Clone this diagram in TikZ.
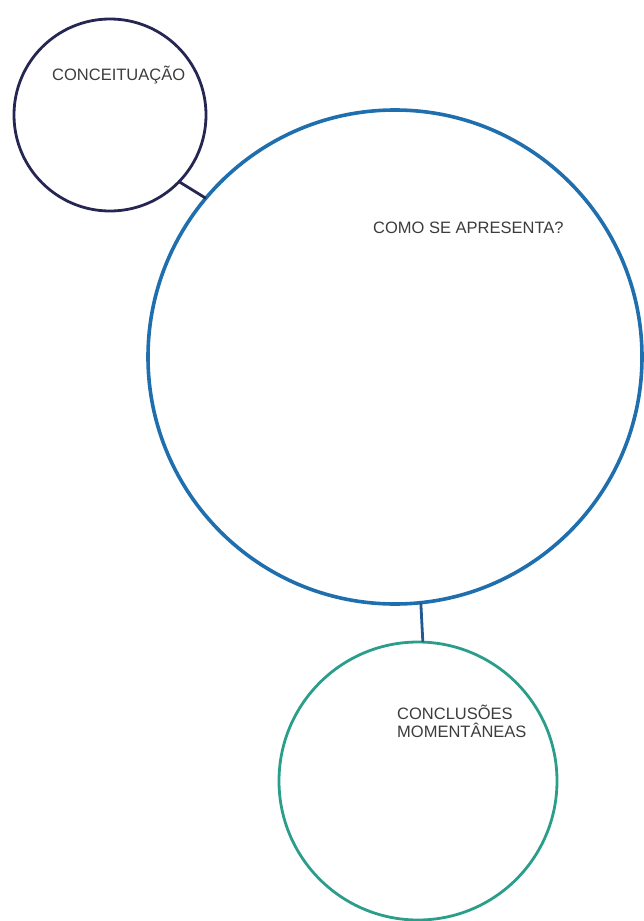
\documentclass[tikz,border=0pt]{standalone}
\usepackage{fontspec}
\setmainfont{Liberation Sans}
\definecolor{navyc}{HTML}{262652}
\definecolor{bluec}{HTML}{1F6FAF}
\definecolor{tealc}{HTML}{2A9E8A}
\definecolor{txtc}{HTML}{3C3C3C}
\begin{document}
\begin{tikzpicture}[x=1pt,y=-1pt,
  ring/.style={circle,draw,inner sep=0pt,outer sep=0pt},
  lbl/.style={anchor=base west,inner sep=0pt,text=txtc,font=\fontsize{16.5}{18}\selectfont}]
\useasboundingbox (0,0) rectangle (644,921);
\node[ring,navyc,line width=2.8pt,minimum size=192pt] (s) at (110,115) {};
\node[ring,bluec,line width=3.6pt,minimum size=494pt] (b) at (395,357) {};
\node[ring,tealc,line width=2.8pt,minimum size=278pt] (c) at (418,781) {};
\draw[navyc,line width=2.8pt] (s.-44.6) -- (b.140.4);
\draw[bluec!70!navyc,line width=2.8pt] (b.-84.5) -- (c.88.8);
\node[lbl] (t1) at (52,80) {CONCEITUAÇÃO};
\node[lbl] (t2) at (373,233) {COMO SE APRESENTA?};
\node[lbl] (t3) at (397,719) {CONCLUSÕES};
\node[lbl] (t4) at (397,737) {MOMENTÂNEAS};
\end{tikzpicture}
\end{document}
